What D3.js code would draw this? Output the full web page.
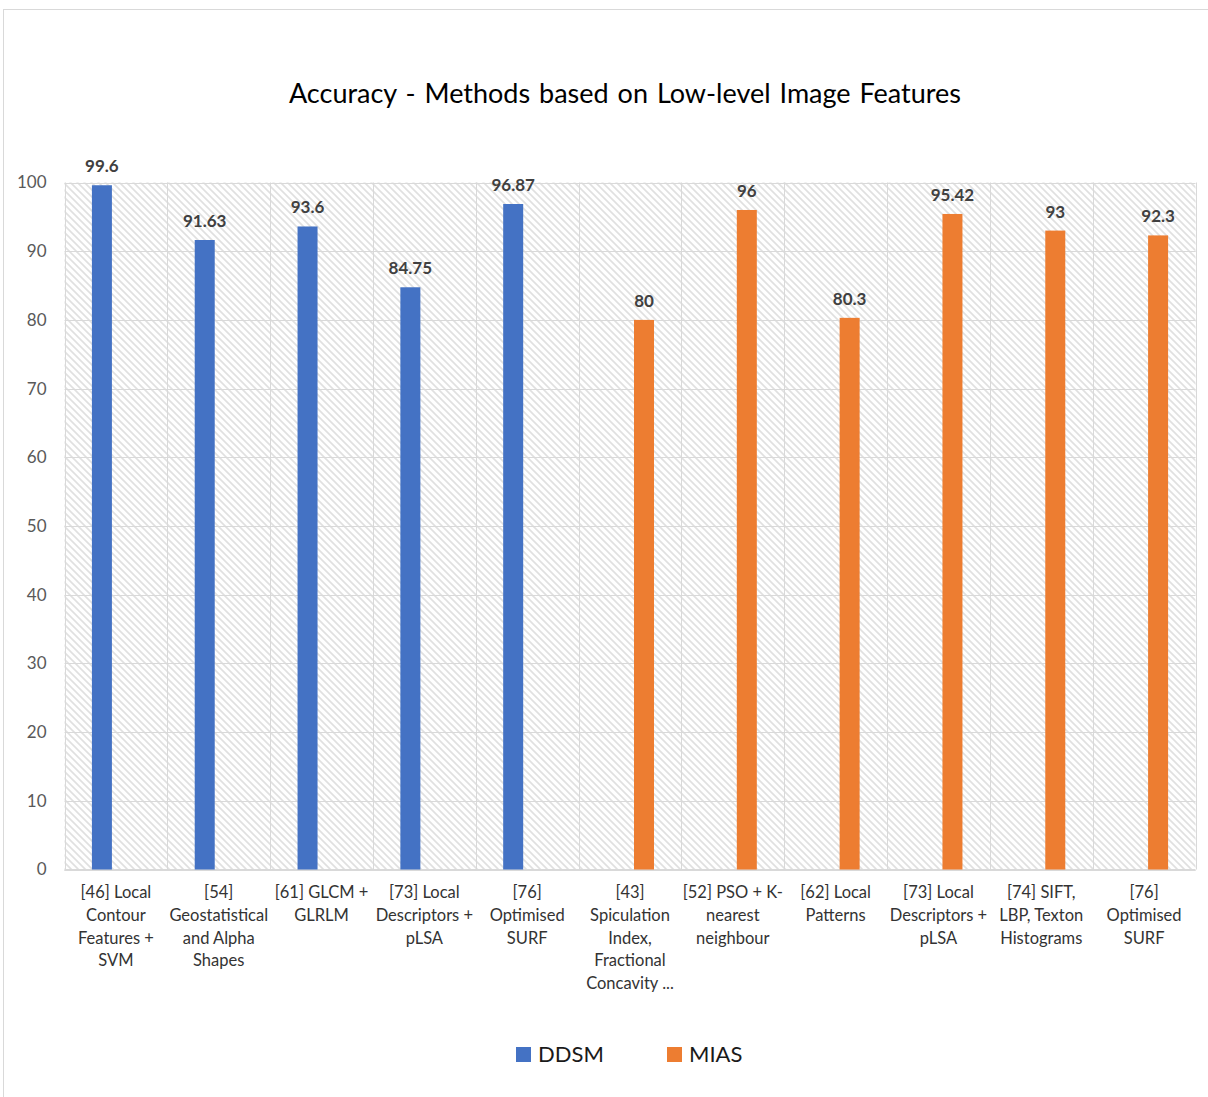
<!DOCTYPE html>
<html>
<head>
<meta charset="utf-8">
<script src="https://cdn.jsdelivr.net/npm/d3@7"></script>
<style>
  html, body { margin: 0; padding: 0; background: #fff; }
  svg { display: block; font-family: Lato, "Open Sans", sans-serif; }
</style>
</head>
<body>
<svg id="chart" width="1208" height="1097"></svg>
<script>
// Method labels, one entry per line of the wrapped axis label
const categories = [
  ["[46] Local", "Contour", "Features +", "SVM"],
  ["[54]", "Geostatistical", "and Alpha", "Shapes"],
  ["[61] GLCM +", "GLRLM"],
  ["[73] Local", "Descriptors +", "pLSA"],
  ["[76]", "Optimised", "SURF"],
  ["[43]", "Spiculation", "Index,", "Fractional", "Concavity ..."],
  ["[52] PSO + K-", "nearest", "neighbour"],
  ["[62] Local", "Patterns"],
  ["[73] Local", "Descriptors +", "pLSA"],
  ["[74] SIFT,", "LBP, Texton", "Histograms"],
  ["[76]", "Optimised", "SURF"]
];
const seriesNames = ["DDSM", "MIAS"];
const ddsmValues = [99.6, 91.63, 93.6, 84.75, 96.87, null, null, null, null, null, null];
const miasValues = [null, null, null, null, null, 80, 96, 80.3, 95.42, 93, 92.3];
const yTicks = [0, 10, 20, 30, 40, 50, 60, 70, 80, 90, 100];
const colors = { DDSM: "#4472C4", MIAS: "#ED7D31" };

const svg = d3.select("#chart");
const W = 1208, H = 1097;
const plot = { left: 64.5, right: 1195.5, top: 182.5, bottom: 869.5 };

// chart frame
svg.append("rect")
  .attr("x", 3.5).attr("y", 9.5)
  .attr("width", W + 20).attr("height", H + 20)
  .attr("fill", "#fff").attr("stroke", "#d9d9d9").attr("stroke-width", 1);

// diagonal hatch fill for the plot area
const defs = svg.append("defs");
const pat = defs.append("pattern")
  .attr("id", "hatch").attr("patternUnits", "userSpaceOnUse")
  .attr("width", 7).attr("height", 7);
pat.append("rect").attr("width", 7).attr("height", 7).attr("fill", "#fff");
pat.append("path")
  .attr("d", "M-1,-1 L8,8 M-8,-1 L1,8 M6,-1 L15,8")
  .attr("stroke", "#e0e0e0").attr("stroke-width", 1.6);

const x0 = d3.scaleBand()
  .domain(d3.range(categories.length))
  .range([plot.left, plot.right])
  .padding(0);
const cw = x0.bandwidth();
const x1 = d3.scaleBand()
  .domain(seriesNames)
  .range([cw / 2 - 24, cw / 2 + 24])
  .paddingInner(8 / 28)
  .paddingOuter(0);
const y = d3.scaleLinear().domain([0, 100]).range([plot.bottom, plot.top]);

svg.append("rect")
  .attr("x", plot.left).attr("y", plot.top)
  .attr("width", plot.right - plot.left).attr("height", plot.bottom - plot.top)
  .attr("fill", "url(#hatch)");

// horizontal gridlines
svg.append("g")
  .selectAll("line").data(yTicks).join("line")
  .attr("x1", plot.left).attr("x2", plot.right)
  .attr("y1", d => Math.round(y(d)) + 0.5).attr("y2", d => Math.round(y(d)) + 0.5)
  .attr("stroke", "#d9d9d9").attr("stroke-width", 1);

// vertical category separators
svg.append("g")
  .selectAll("line").data(d3.range(categories.length + 1)).join("line")
  .attr("x1", i => Math.round(plot.left + i * cw) + 0.5)
  .attr("x2", i => Math.round(plot.left + i * cw) + 0.5)
  .attr("y1", plot.top).attr("y2", plot.bottom)
  .attr("stroke", "#d9d9d9").attr("stroke-width", 1);

// baseline
svg.append("line")
  .attr("x1", plot.left).attr("x2", plot.right)
  .attr("y1", y(0) + 0.5).attr("y2", y(0) + 0.5)
  .attr("stroke", "#d9d9d9").attr("stroke-width", 2);

// y axis labels
const yAxis = d3.axisLeft(y).tickValues(yTicks).tickSize(0).tickPadding(18);
const yg = svg.append("g").attr("transform", `translate(${plot.left},0)`).call(yAxis);
yg.select(".domain").remove();
yg.selectAll("text")
  .attr("font-size", 17).attr("fill", "#595959")
  .attr("font-family", "Lato, sans-serif");

// bars and value labels
const rows = [];
seriesNames.forEach(s => {
  const vals = s === "DDSM" ? ddsmValues : miasValues;
  vals.forEach((v, i) => { if (v != null) rows.push({ s, i, v }); });
});
svg.append("g").selectAll("rect").data(rows).join("rect")
  .attr("x", d => x0(d.i) + x1(d.s))
  .attr("width", x1.bandwidth())
  .attr("y", d => y(d.v))
  .attr("height", d => y(0) - y(d.v))
  .attr("fill", d => colors[d.s]);

svg.append("g").selectAll("text").data(rows).join("text")
  .attr("x", d => x0(d.i) + x1(d.s) + x1.bandwidth() / 2)
  .attr("y", d => y(d.v) - 13)
  .attr("text-anchor", "middle")
  .attr("font-size", 17).attr("font-weight", "bold").attr("fill", "#404040")
  .text(d => d.v);

// category labels
const xg = svg.append("g");
categories.forEach((lines, i) => {
  const t = xg.append("text")
    .attr("x", x0(i) + cw / 2)
    .attr("y", 898)
    .attr("text-anchor", "middle")
    .attr("font-size", 16.5).attr("fill", "#333");
  lines.forEach((ln, k) => {
    t.append("tspan").attr("x", x0(i) + cw / 2).attr("dy", k === 0 ? 0 : 22.8).text(ln);
  });
});

// title
svg.append("text")
  .attr("x", 625).attr("y", 103)
  .attr("text-anchor", "middle")
  .attr("font-size", 27).attr("fill", "#000")
  .attr("word-spacing", 2)
  .text("Accuracy - Methods based on Low-level Image Features");

// legend
const legend = svg.append("g");
const legendItems = [{ s: "DDSM", x: 516 }, { s: "MIAS", x: 667 }];
legendItems.forEach(it => {
  legend.append("rect")
    .attr("x", it.x).attr("y", 1047).attr("width", 15).attr("height", 15)
    .attr("fill", colors[it.s]);
  legend.append("text")
    .attr("x", it.x + 22).attr("y", 1062)
    .attr("font-size", 22).attr("fill", "#1a1a1a")
    .text(it.s);
});
</script>
</body>
</html>
